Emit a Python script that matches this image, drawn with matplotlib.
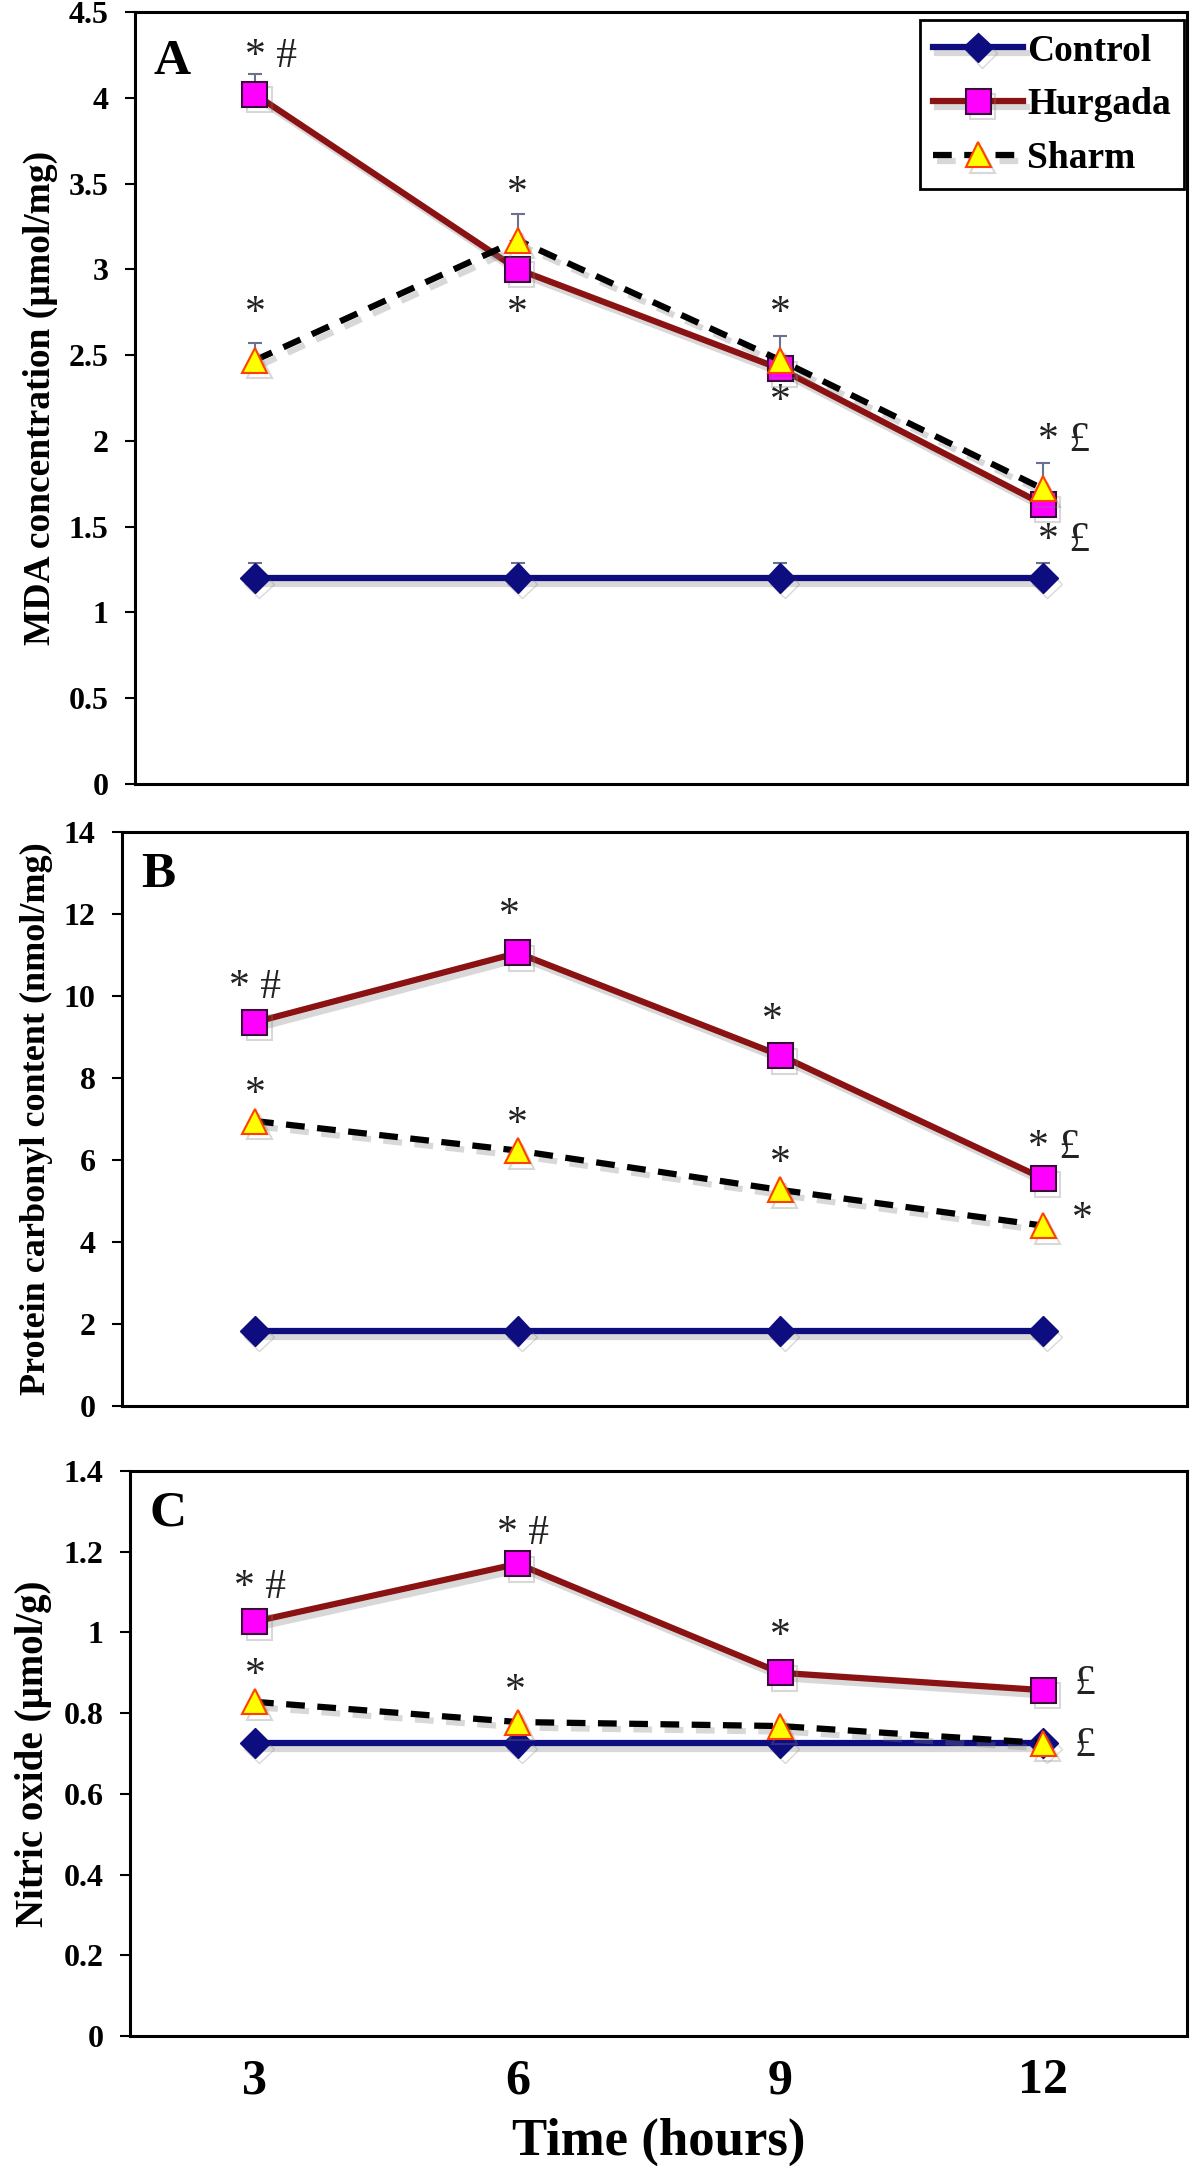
import matplotlib
matplotlib.use('Agg')
import matplotlib.pyplot as plt
import matplotlib.patheffects as pe
from matplotlib.ticker import FuncFormatter

plt.rcParams['font.family'] = ['Liberation Serif', 'DejaVu Serif']

# Dados
horas = ['3', '6', '9', '12']

mda_control = [1.2, 1.2, 1.2, 1.2]
mda_hurgada = [4.02, 3.0, 2.42, 1.63]
mda_sharm = [2.47, 3.17, 2.47, 1.72]
mda_err_control = [0.09, 0.09, 0.09, 0.09]
mda_err_hurgada = [0.12, 0.0, 0.0, 0.0]
mda_err_sharm = [0.10, 0.15, 0.14, 0.15]

pc_control = [1.83, 1.83, 1.83, 1.83]
pc_hurgada = [9.36, 11.05, 8.55, 5.55]
pc_sharm = [6.95, 6.23, 5.27, 4.4]

no_control = [0.726, 0.726, 0.726, 0.726]
no_hurgada = [1.027, 1.17, 0.9, 0.857]
no_sharm = [0.828, 0.778, 0.768, 0.726]

# anotacoes: (indice, y, texto, deslocamento x)
mda_notes = [(0, 4.24, '* #', 0.06), (0, 2.74, '*', 0.0), (1, 3.44, '*', 0.0),
             (1, 2.74, '*', 0.0), (2, 2.74, '*', 0.0), (2, 2.23, '*', 0.0),
             (3, 2.0, '* £', 0.08), (3, 1.42, '* £', 0.08)]
pc_notes = [(0, 10.2, '* #', 0.0), (1, 11.95, '*', -0.03), (2, 9.4, '*', -0.03),
            (3, 6.3, '* £', 0.04), (0, 7.6, '*', 0.0), (1, 6.85, '*', 0.0),
            (2, 5.9, '*', 0.0), (3, 4.55, '*', 0.15)]
no_notes = [(0, 1.11, '* #', 0.02), (1, 1.245, '* #', 0.02), (2, 0.99, '*', 0.0),
            (3, 0.872, '£', 0.16), (0, 0.893, '*', 0.0), (1, 0.852, '*', -0.01),
            (3, 0.72, '£', 0.16)]

W, H = 1200, 2166
fig = plt.figure(figsize=(W / 100, H / 100), dpi=100)

# caixas dos paineis em pixels (esq, topo, dir, base)
caixas = [(135, 12, 1187, 784), (122, 832, 1187, 1406), (130, 1471, 1187, 2036)]

sombra = [pe.SimpleLineShadow(offset=(3, -4), shadow_color='gray', alpha=0.3), pe.Normal()]
fmt = FuncFormatter(lambda v, p: '%g' % v)


def painel(caixa, control, hurgada, sharm, ymax, ystep, ylabel, ylsize, letra, notas,
           err=None):
    l, t, r, b = caixa
    ax = fig.add_axes([l / W, 1 - b / H, (r - l) / W, (b - t) / H])
    x = list(range(len(horas)))
    ax.plot(x, control, color='#0d0d80', lw=4.5, marker='D', ms=15,
            mfc='#0d0d80', mec='#0d0d80', label='Control', path_effects=sombra, zorder=3)
    ax.plot(x, hurgada, color='#8b1212', lw=4.5, marker='s', ms=18,
            mfc='#ff00ff', mec='#3a0a3a', mew=1.5, label='Hurgada', path_effects=sombra, zorder=4)
    ls, = ax.plot(x, sharm, color='black', lw=4.5, ls='--', marker='^', ms=18,
                  mfc='#ffff00', mec='#ff4000', mew=1.5, label='Sharm', path_effects=sombra, zorder=5)
    ls.set_dashes((3, 2))
    if err is not None:
        for vals, e in zip((control, hurgada, sharm), err):
            ax.errorbar(x, vals, yerr=[[0] * 4, e], fmt='none', ecolor='#6a7090',
                        elinewidth=1.5, capsize=5, capthick=1.5, zorder=2)
    for i, y, txt, dx in notas:
        ax.text(i + dx, y, txt, ha='center', va='center', fontsize=30, color='#222222')
    ax.set_xlim(-(255 - l) / 262.7, 3 + (r - 1043) / 262.7)
    ax.set_ylim(0, ymax)
    ticks = [k * ystep for k in range(int(round(ymax / ystep)) + 1)]
    ax.set_yticks(ticks)
    ax.yaxis.set_major_formatter(fmt)
    ax.tick_params(axis='y', direction='out', length=7, width=1.5, pad=12, labelsize=23)
    ax.tick_params(axis='x', length=0)
    for lab in ax.get_yticklabels():
        lab.set_fontweight('bold')
    for s in ax.spines.values():
        s.set_linewidth(2.2)
    ax.set_ylabel(ylabel, fontsize=ylsize, fontweight='bold', labelpad=8)
    ax.text(0.018, 0.965, letra, transform=ax.transAxes, fontsize=37, fontweight='bold',
            ha='left', va='top')
    return ax


axA = painel(caixas[0], mda_control, mda_hurgada, mda_sharm, 4.5, 0.5,
             'MDA concentration (µmol/mg)', 27, 'A', mda_notes,
             err=(mda_err_control, mda_err_hurgada, mda_err_sharm))
axA.set_xticks(range(4))
axA.set_xticklabels([])
leg = axA.legend(loc='upper right', bbox_to_anchor=(0.997, 0.989), borderaxespad=0,
                 prop={'weight': 'bold', 'size': 27}, handlelength=2.4, handletextpad=0.1,
                 labelspacing=0.5, fancybox=False, framealpha=1, borderpad=0.35)
leg.get_frame().set_edgecolor('black')
leg.get_frame().set_linewidth(2)

axB = painel(caixas[1], pc_control, pc_hurgada, pc_sharm, 14, 2,
             'Protein carbonyl content (nmol/mg)', 26, 'B', pc_notes)
axB.set_xticks(range(4))
axB.set_xticklabels([])

axC = painel(caixas[2], no_control, no_hurgada, no_sharm, 1.4, 0.2,
             'Nitric oxide (µmol/g)', 28, 'C', no_notes)
axC.set_xticks(range(4))
axC.set_xticklabels(horas, fontsize=36, fontweight='bold')
axC.tick_params(axis='x', pad=16)
axC.set_xlabel('Time (hours)', fontsize=38, fontweight='bold', labelpad=10)

fig.savefig('out.png', dpi=100)
